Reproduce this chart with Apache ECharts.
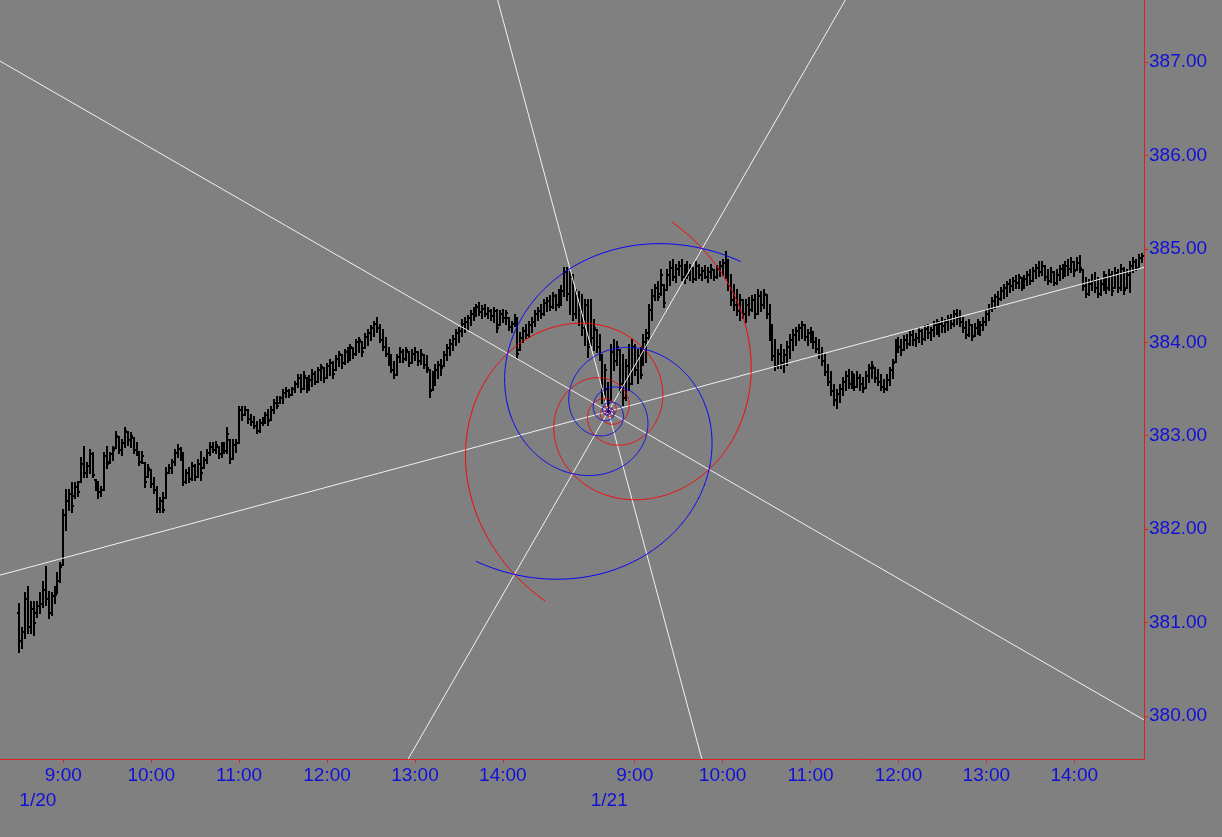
<!DOCTYPE html>
<html>
<head>
<meta charset="utf-8">
<script src="https://cdn.jsdelivr.net/npm/echarts@6/dist/echarts.min.js"></script>
<style>
html,body{margin:0;padding:0;background:#808080;}
#chart{width:1222px;height:837px;}
</style>
</head>
<body>
<div id="chart"></div>
<script>
// ---- 2-minute OHLC bars [open, high, low, close] ----
const bars0120 = [
[381.10,381.20,380.69,380.80],[380.80,380.94,380.73,380.90],[380.90,381.32,380.84,381.25],[381.25,381.38,380.89,380.95],
[380.95,381.22,380.89,381.15],[381.15,381.22,380.87,381.00],[381.10,381.22,381.06,381.18],[381.18,381.32,381.10,381.20],
[381.20,381.43,381.17,381.35],[381.35,381.59,381.19,381.25],[381.25,381.33,381.05,381.10],[381.10,381.32,381.08,381.28],
[381.28,381.38,381.21,381.30],[381.35,381.53,381.32,381.45],[381.45,381.64,381.43,381.60],[381.62,382.21,381.62,382.15],
[382.15,382.42,381.99,382.30],[382.30,382.42,382.21,382.38],[382.38,382.49,382.18,382.25],[382.35,382.49,382.33,382.45],
[382.45,382.51,382.35,382.40],[382.51,382.76,382.51,382.70],[382.70,382.88,382.56,382.60],[382.60,382.71,382.56,382.68],
[382.68,382.85,382.60,382.80],[382.80,382.82,382.56,382.58],[382.53,382.53,382.42,382.45],[382.45,382.51,382.33,382.40],
[382.40,382.45,382.35,382.42],[382.42,382.82,382.42,382.78],[382.78,382.88,382.66,382.70],[382.72,382.82,382.71,382.80],
[382.80,382.88,382.74,382.85],[382.87,383.04,382.87,383.00],[382.99,382.99,382.82,382.85],[382.85,382.95,382.79,382.92],
[382.92,383.08,382.88,383.05],[383.04,383.04,382.90,382.95],[382.95,383.03,382.88,383.00],[382.98,382.98,382.82,382.85],
[382.85,382.92,382.79,382.82],[382.82,382.83,382.69,382.72],[382.72,382.83,382.71,382.78],[382.71,382.71,382.45,382.50],
[382.56,382.69,382.56,382.65],[382.63,382.63,382.45,382.48],[382.48,382.55,382.39,382.42],[382.42,382.45,382.18,382.22],
[382.22,382.33,382.18,382.30],[382.30,382.39,382.18,382.20],[382.33,382.65,382.33,382.60],[382.60,382.69,382.60,382.66],
[382.66,382.74,382.60,382.72],[382.72,382.85,382.69,382.82],[382.82,382.90,382.77,382.86],[382.86,382.87,382.74,382.78],
[382.78,382.82,382.47,382.50],[382.50,382.63,382.49,382.60],[382.60,382.65,382.51,382.54],[382.54,382.71,382.53,382.68],
[382.68,382.69,382.53,382.56],[382.56,382.74,382.56,382.70],[382.70,382.83,382.53,382.60],[382.66,382.76,382.66,382.74],
[382.74,382.85,382.71,382.82],[382.82,382.92,382.79,382.88],[382.88,382.92,382.83,382.85],[382.85,382.93,382.82,382.90],
[382.88,382.88,382.76,382.80],[382.80,382.92,382.77,382.88],[382.88,382.92,382.82,382.84],[382.84,383.08,382.82,383.02],
[382.95,382.95,382.71,382.75],[382.75,382.95,382.75,382.90],[382.90,382.95,382.83,382.92],[382.92,383.31,382.92,383.28],
[383.28,383.31,383.17,383.22],[383.22,383.31,383.22,383.28],[383.28,383.28,383.14,383.18],[383.18,383.22,383.12,383.15],
[383.15,383.20,383.08,383.10],[383.10,383.15,383.03,383.05],[383.05,383.17,383.04,383.14],[383.14,383.19,383.12,383.18],
[383.18,383.24,383.14,383.22],[383.22,383.28,383.12,383.16],[383.17,383.31,383.17,383.28],[383.28,383.38,383.24,383.35],
[383.35,383.41,383.30,383.32],[383.35,383.41,383.35,383.40],[383.40,383.49,383.35,383.46],[383.46,383.51,383.41,383.48],
[383.48,383.49,383.41,383.44],[383.44,383.51,383.44,383.50],[383.50,383.58,383.47,383.55],[383.55,383.65,383.52,383.62],
[383.62,383.65,383.47,383.50],[383.50,383.68,383.50,383.64],[383.62,383.62,383.47,383.52],[383.52,383.64,383.49,383.60],
[383.60,383.70,383.53,383.66],[383.66,383.68,383.55,383.58],[383.58,383.73,383.58,383.70],[383.70,383.76,383.60,383.74],
[383.73,383.73,383.58,383.62],[383.62,383.77,383.62,383.75],[383.75,383.81,383.65,383.78],[383.78,383.79,383.62,383.66],
[383.70,383.85,383.70,383.82],[383.82,383.90,383.75,383.88],[383.86,383.86,383.73,383.78],[383.78,383.92,383.77,383.90],
[383.90,383.94,383.79,383.85],[383.85,383.97,383.81,383.95],[383.94,383.94,383.83,383.88],[383.88,384.02,383.86,384.00],
[384.00,384.05,383.90,384.02],[384.00,384.00,383.85,383.90],[383.94,384.09,383.94,384.06],[384.06,384.13,383.97,384.10],
[384.10,384.17,384.02,384.15],[384.15,384.22,384.07,384.20],[384.20,384.26,384.11,384.15],[384.15,384.19,384.00,384.03],
[384.03,384.13,383.92,383.95],[383.95,384.05,383.85,383.88],[383.88,383.94,383.76,383.78],[383.78,383.86,383.68,383.70],
[383.70,383.79,383.62,383.65],[383.65,383.86,383.65,383.84],[383.84,383.94,383.79,383.90],[383.90,383.92,383.79,383.82],
[383.82,383.94,383.81,383.92],[383.90,383.90,383.75,383.78],[383.78,383.92,383.78,383.88],[383.88,383.94,383.81,383.90],
[383.90,383.90,383.76,383.80],[383.80,383.92,383.77,383.88],[383.86,383.86,383.73,383.76],[383.76,383.85,383.68,383.72],
[383.70,383.70,383.41,383.48],[383.49,383.68,383.49,383.62],[383.62,383.76,383.54,383.70],[383.70,383.79,383.62,383.76],
[383.76,383.81,383.65,383.72],[383.75,383.90,383.75,383.86],[383.86,383.97,383.81,383.94],[383.94,384.02,383.86,383.98],
[383.98,384.07,383.92,384.04],[384.04,384.13,383.97,384.10],[384.10,384.15,384.00,384.12],[384.12,384.24,384.07,384.20],
[384.20,384.26,384.11,384.22],[384.22,384.28,384.13,384.26],[384.26,384.33,384.19,384.30],[384.30,384.37,384.24,384.34],
[384.34,384.40,384.28,384.38],[384.38,384.42,384.29,384.32],[384.32,384.39,384.26,384.36],[384.36,384.40,384.28,384.30],
[384.30,384.37,384.26,384.34],[384.34,384.35,384.24,384.28],[384.28,384.37,384.22,384.34],[384.34,384.35,384.11,384.15],
[384.19,384.33,384.19,384.30],[384.30,384.35,384.22,384.26],[384.26,384.33,384.20,384.31],[384.26,384.26,384.13,384.16],
[384.16,384.22,384.11,384.20],[384.20,384.29,384.17,384.26],[384.26,384.26,383.83,383.88],[383.92,384.10,383.92,384.05],
[384.05,384.15,384.00,384.12],[384.12,384.19,384.05,384.08],[384.08,384.22,384.06,384.18],[384.18,384.26,384.11,384.22],
[384.22,384.33,384.17,384.30],[384.30,384.37,384.24,384.34],[384.34,384.40,384.26,384.30],[384.30,384.45,384.29,384.42],
[384.42,384.47,384.33,384.44],[384.44,384.50,384.35,384.38],[384.38,384.53,384.37,384.50],[384.50,384.51,384.35,384.40],
[384.40,384.56,384.38,384.52],[384.52,384.60,384.40,384.55],[384.55,384.80,384.50,384.75],[384.75,384.80,384.45,384.52],
[384.52,384.75,384.30,384.70],[384.70,384.72,384.24,384.30],[384.30,384.56,384.26,384.50],[384.50,384.54,384.19,384.35],
[384.35,384.51,384.08,384.15],[384.15,384.45,383.97,384.40],[384.40,384.45,383.84,383.95]
];
const bars0121 = [
[383.98,384.45,383.97,384.05],[384.05,384.24,383.92,384.15],[384.13,384.13,383.90,383.95],[383.95,384.08,383.81,383.85],
[383.85,383.86,383.35,383.45],[383.45,383.76,383.38,383.70],[383.50,383.56,383.26,383.35],[383.38,383.97,383.38,383.90],
[383.90,384.02,383.70,383.80],[383.80,384.00,383.76,383.95],[383.92,383.92,383.47,383.55],[383.55,383.86,383.33,383.40],
[383.40,383.81,383.38,383.75],[383.75,383.97,383.49,383.55],[383.55,384.02,383.55,383.95],[383.95,383.97,383.65,383.70],
[383.70,383.92,383.56,383.85],[383.85,383.94,383.62,383.65],[383.76,384.08,383.76,384.00],[384.00,384.13,383.79,384.10],
[384.05,384.40,384.02,384.35],[384.35,384.56,384.24,384.50],[384.50,384.61,384.45,384.58],[384.58,384.65,384.45,384.48],
[384.52,384.77,384.51,384.72],[384.61,384.61,384.38,384.42],[384.56,384.77,384.56,384.72],[384.72,384.86,384.61,384.80],
[384.80,384.88,384.67,384.70],[384.70,384.83,384.65,384.78],[384.78,384.86,384.72,384.82],[384.82,384.88,384.67,384.70],
[384.70,384.83,384.63,384.80],[384.80,384.86,384.69,384.72],[384.72,384.83,384.67,384.80],[384.80,384.80,384.65,384.68],
[384.68,384.86,384.67,384.82],[384.82,384.83,384.69,384.72],[384.72,384.80,384.67,384.76],[384.76,384.82,384.69,384.70],
[384.70,384.80,384.65,384.75],[384.75,384.83,384.69,384.78],[384.77,384.77,384.67,384.70],[384.70,384.82,384.69,384.78],
[384.78,384.86,384.71,384.82],[384.82,384.88,384.72,384.85],[384.85,384.97,384.69,384.72],[384.72,384.88,384.56,384.60],
[384.60,384.72,384.40,384.45],[384.45,384.61,384.35,384.40],[384.40,384.56,384.29,384.33],[384.33,384.51,384.24,384.45],
[384.45,384.45,384.26,384.30],[384.30,384.45,384.22,384.40],[384.40,384.47,384.29,384.35],[384.35,384.50,384.33,384.45],
[384.45,384.51,384.26,384.30],[384.30,384.56,384.30,384.50],[384.50,384.54,384.33,384.40],[384.40,384.56,384.37,384.52],
[384.51,384.51,384.26,384.30],[384.30,384.40,384.02,384.08],[384.08,384.19,383.81,383.85],[383.85,384.02,383.70,383.75],
[383.75,383.92,383.73,383.88],[383.88,383.97,383.73,383.78],[383.78,383.92,383.68,383.86],[383.86,384.00,383.76,383.95],
[383.95,384.08,383.83,384.02],[384.02,384.13,383.92,384.08],[384.08,384.15,383.97,384.12],[384.12,384.19,384.02,384.15],
[384.15,384.22,384.05,384.18],[384.18,384.19,384.02,384.06],[384.06,384.13,383.97,384.10],[384.10,384.15,384.00,384.05],
[384.05,384.11,383.94,384.00],[384.00,384.05,383.90,383.93],[383.93,384.02,383.83,383.88],[383.88,383.94,383.76,383.80],
[383.80,383.86,383.65,383.68],[383.68,383.76,383.54,383.58],[383.58,383.68,383.44,383.48],[383.48,383.54,383.33,383.38],
[383.38,383.49,383.30,383.45],[383.45,383.54,383.36,383.50],[383.50,383.62,383.44,383.58],[383.58,383.68,383.49,383.64],
[383.64,383.70,383.51,383.55],[383.55,383.68,383.51,383.66],[383.65,383.65,383.49,383.52],[383.52,383.68,383.52,383.62],
[383.62,383.65,383.49,383.55],[383.55,383.62,383.47,383.50],[383.51,383.68,383.51,383.64],[383.64,383.76,383.58,383.72],
[383.72,383.79,383.62,383.75],[383.73,383.73,383.58,383.62],[383.62,383.70,383.54,383.58],[383.58,383.65,383.49,383.52],
[383.52,383.60,383.47,383.50],[383.50,383.65,383.49,383.60],[383.60,383.73,383.54,383.70],[383.70,383.81,383.62,383.78],
[383.79,384.02,383.79,383.98],[383.98,384.05,383.90,383.95],[383.95,384.02,383.86,383.92],[383.92,384.07,383.92,384.02],
[384.02,384.08,383.94,383.98],[383.98,384.11,383.97,384.08],[384.08,384.13,383.97,384.02],[384.02,384.09,383.96,384.05],
[384.05,384.15,384.00,384.12],[384.12,384.13,383.98,384.04],[384.04,384.17,384.02,384.14],[384.14,384.19,384.05,384.10],
[384.10,384.15,384.02,384.13],[384.13,384.22,384.07,384.18],[384.18,384.24,384.09,384.14],[384.14,384.22,384.07,384.20],
[384.20,384.26,384.11,384.17],[384.17,384.24,384.11,384.22],[384.22,384.28,384.13,384.25],[384.25,384.29,384.15,384.20],
[384.20,384.33,384.17,384.30],[384.30,384.35,384.20,384.26],[384.26,384.33,384.17,384.22],[384.22,384.26,384.11,384.15],
[384.15,384.22,384.05,384.08],[384.08,384.24,384.07,384.18],[384.18,384.19,384.02,384.06],[384.07,384.20,384.07,384.15],
[384.15,384.24,384.09,384.12],[384.12,384.22,384.08,384.18],[384.18,384.26,384.13,384.22],[384.22,384.35,384.19,384.30],
[384.30,384.40,384.24,384.36],[384.36,384.47,384.33,384.44],[384.44,384.51,384.37,384.48],[384.48,384.54,384.40,384.46],
[384.46,384.58,384.45,384.55],[384.55,384.61,384.47,384.58],[384.58,384.65,384.50,384.62],[384.62,384.67,384.54,384.60],
[384.60,384.69,384.56,384.66],[384.66,384.71,384.58,384.64],[384.64,384.72,384.58,384.70],[384.69,384.69,384.56,384.60],
[384.60,384.71,384.58,384.68],[384.68,384.75,384.61,384.72],[384.72,384.77,384.62,384.66],[384.66,384.80,384.66,384.76],
[384.76,384.83,384.69,384.80],[384.80,384.86,384.71,384.75],[384.75,384.86,384.72,384.82],[384.82,384.82,384.67,384.70],
[384.70,384.77,384.62,384.66],[384.66,384.80,384.65,384.75],[384.75,384.75,384.61,384.64],[384.64,384.77,384.62,384.72],
[384.72,384.82,384.67,384.78],[384.78,384.83,384.69,384.74],[384.74,384.86,384.71,384.82],[384.82,384.88,384.72,384.78],
[384.78,384.90,384.75,384.86],[384.86,384.86,384.71,384.76],[384.77,384.90,384.77,384.85],[384.85,384.92,384.75,384.80],
[384.77,384.77,384.56,384.60],[384.60,384.69,384.49,384.52],[384.52,384.67,384.51,384.62],[384.62,384.72,384.56,384.66],
[384.66,384.74,384.54,384.58],[384.58,384.69,384.49,384.52],[384.52,384.67,384.51,384.62],[384.62,384.75,384.56,384.70],
[384.70,384.72,384.53,384.58],[384.58,384.77,384.56,384.72],[384.72,384.75,384.51,384.55],[384.58,384.80,384.58,384.74],
[384.74,384.77,384.54,384.58],[384.58,384.83,384.56,384.78],[384.78,384.80,384.52,384.56],[384.58,384.77,384.58,384.72],
[384.72,384.86,384.54,384.82],[384.82,384.90,384.75,384.86],[384.86,384.88,384.77,384.80],[384.80,384.93,384.80,384.90],
[384.90,384.95,384.86,384.92]
];

// ---- axis ticks (bar index, 0 = 8:30 on 1/20) ----
const timeTickIdx = [15,45,75,105,135,165,210,240,270,300,330,360];
const timeTickLabels = ['9:00','10:00','11:00','12:00','13:00','14:00','9:00','10:00','11:00','12:00','13:00','14:00'];
const dateTickIdx = [0,195];
const dateTickLabels = ['1/20','1/21'];
const priceTicks = [380,381,382,383,384,385,386,387];

// ---- Fibonacci spiral / fan drawing anchors [bar index, price] ----
const spiralCenter = [201, 383.26];
const spiralOuterEnd = [222.6, 385.29];
const fanRayAnchor = [281.8, 387.66];

const X_MIN = -6.6, X_MAX = 383.8, Y_MIN = 379.54, Y_MAX = 387.664;
const LABEL_BLUE = '#1010d8', AXIS_RED = '#dd2020';
const FONT = 'Liberation Sans, Arial, sans-serif';

const barData = bars0120.concat(bars0121).map((b, k) => [k, b[0], b[1], b[2], b[3]]);

function renderBar(params, api) {
  const i = api.value(0);
  const po = api.coord([i, api.value(1)]);
  const ph = api.coord([i, api.value(2)]);
  const pl = api.coord([i, api.value(3)]);
  const pc = api.coord([i, api.value(4)]);
  const x = Math.round(ph[0]);
  const yh = Math.round(ph[1]), yl = Math.round(pl[1]);
  const yo = Math.round(po[1]), yc = Math.round(pc[1]);
  const st = { stroke: '#000', lineWidth: 2 };
  return {
    type: 'group',
    children: [
      { type: 'line', shape: { x1: x, y1: yh - 1, x2: x, y2: yl + 1 }, style: st },
      { type: 'line', shape: { x1: x - 2, y1: yo, x2: x, y2: yo }, style: st },
      { type: 'line', shape: { x1: x, y1: yc, x2: x + 2, y2: yc }, style: st }
    ]
  };
}

const PHI = (1 + Math.sqrt(5)) / 2;
function renderDrawing(params, api) {
  const c = api.coord([api.value(0), api.value(1)]);
  const e = api.coord([api.value(2), api.value(3)]);
  const ra = api.coord([api.value(4), api.value(5)]);
  const R = Math.hypot(e[0] - c[0], e[1] - c[1]);
  const a0 = Math.atan2(e[1] - c[1], e[0] - c[0]);
  const r0 = Math.atan2(ra[1] - c[1], ra[0] - c[0]);
  const b0 = 2 * r0 - a0;
  function arm(start, dir) {
    const pts = [];
    for (let t = 0; t <= 22; t += 0.01) {
      const r = R * Math.pow(PHI, -t / (Math.PI / 2));
      const ang = start + dir * t;
      pts.push([c[0] + r * Math.cos(ang), c[1] + r * Math.sin(ang)]);
    }
    return pts;
  }
  const children = [];
  for (let k = 0; k < 4; k++) {
    const ang = r0 + k * Math.PI / 4;
    const dx = Math.cos(ang) * 3000, dy = Math.sin(ang) * 3000;
    children.push({ type: 'line', shape: { x1: c[0] - dx, y1: c[1] - dy, x2: c[0] + dx, y2: c[1] + dy },
      style: { stroke: '#f2f2f2', lineWidth: 1 } });
  }
  [[a0, 1, '#ff0000'], [a0 + Math.PI, 1, '#ff0000'], [b0, -1, '#0000ff'], [b0 + Math.PI, -1, '#0000ff']].forEach(s => {
    children.push({ type: 'polyline', shape: { points: arm(s[0], s[1]) },
      style: { stroke: s[2], lineWidth: 1, fill: null } });
  });
  const cs = params.coordSys;
  return { type: 'group', children: children,
    clipPath: { type: 'rect', shape: { x: cs.x, y: cs.y, width: cs.width, height: cs.height } } };
}

const chart = echarts.init(document.getElementById('chart'), null, { renderer: 'canvas' });
chart.setOption({
  backgroundColor: '#808080',
  animation: false,
  textStyle: { fontFamily: FONT },
  grid: { left: 0, right: 78, top: 0, bottom: 78, containLabel: false },
  xAxis: [
    {
      type: 'value', min: X_MIN, max: X_MAX, position: 'bottom',
      axisLine: { show: true, onZero: false, lineStyle: { color: AXIS_RED, width: 1 } },
      axisTick: { show: true, length: 4, inside: false, customValues: timeTickIdx, lineStyle: { color: AXIS_RED } },
      axisLabel: {
        show: true, customValues: timeTickIdx, margin: 7,
        color: LABEL_BLUE, fontSize: 19, fontFamily: FONT,
        formatter: v => timeTickLabels[timeTickIdx.indexOf(Math.round(v))] || ''
      },
      splitLine: { show: false }
    },
    {
      type: 'value', min: X_MIN, max: X_MAX, position: 'bottom', offset: 0,
      axisLine: { show: false }, axisTick: { show: false }, splitLine: { show: false },
      axisLabel: {
        show: true, customValues: dateTickIdx, margin: 32, align: 'left',
        color: LABEL_BLUE, fontSize: 19, fontFamily: FONT,
        formatter: v => dateTickLabels[dateTickIdx.indexOf(Math.round(v))] || ''
      }
    }
  ],
  yAxis: {
    type: 'value', min: Y_MIN, max: Y_MAX, position: 'right', scale: true,
    axisLine: { show: true, onZero: false, lineStyle: { color: AXIS_RED, width: 1 } },
    axisTick: { show: true, length: 4, inside: false, customValues: priceTicks, lineStyle: { color: AXIS_RED } },
    axisLabel: {
      show: true, customValues: priceTicks, margin: 5,
      color: LABEL_BLUE, fontSize: 19, fontFamily: FONT,
      formatter: v => v.toFixed(2)
    },
    splitLine: { show: false }
  },
  series: [
    {
      type: 'custom', name: 'bars', xAxisIndex: 0, yAxisIndex: 0,
      data: barData, encode: { x: 0, y: [1, 2, 3, 4] },
      renderItem: renderBar, clip: true, silent: true, z: 2
    },
    {
      type: 'custom', name: 'drawing', xAxisIndex: 0, yAxisIndex: 0,
      data: [[spiralCenter[0], spiralCenter[1], spiralOuterEnd[0], spiralOuterEnd[1], fanRayAnchor[0], fanRayAnchor[1]]],
      encode: { x: [0, 2, 4], y: [1, 3, 5] },
      renderItem: renderDrawing, clip: true, silent: true, z: 3
    }
  ]
});
</script>
</body>
</html>
